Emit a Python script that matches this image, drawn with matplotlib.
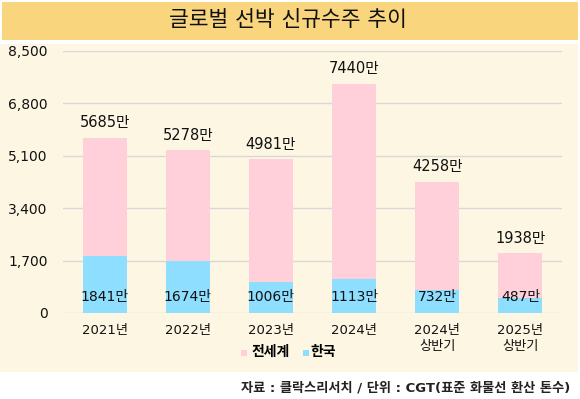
import matplotlib.pyplot as plt
from matplotlib.patches import Rectangle

plt.rcParams['font.family'] = ['DejaVu Sans', 'Noto Sans CJK KR']

categories = ['2021년', '2022년', '2023년', '2024년', '2024년\n상반기', '2025년\n상반기']
world = [5685, 5278, 4981, 7440, 4258, 1938]
korea = [1841, 1674, 1006, 1113, 732, 487]
yticks = [0, 1700, 3400, 5100, 6800, 8500]

pink = '#FFD0DA'
blue = '#8EDFFF'
cream = '#FDF6E2'

fig = plt.figure(figsize=(5.8, 3.99), dpi=100)
fig.patch.set_facecolor('white')

# title banner and panel background
fig.patches.append(Rectangle((2/580, 1 - 40/399), 576/580, 38/399, transform=fig.transFigure,
                             facecolor='#F9D67E', edgecolor='none', zorder=-2))
fig.patches.append(Rectangle((0, 1 - 372/399), 578/580, 328/399, transform=fig.transFigure,
                             facecolor=cream, edgecolor='none', zorder=-2))
fig.text(288/580, 1 - 20/399, '글로벌 선박 신규수주 추이', ha='center', va='center',
         fontsize=15.5, fontweight='medium', color='#111111')

ax = fig.add_axes([63/580, 1 - 313/399, 499/580, 262/399])
ax.set_facecolor('none')
x = range(len(categories))
ax.bar(x, world, width=0.53, color=pink, zorder=2)
ax.bar(x, korea, width=0.53, color=blue, zorder=3)

for i in x:
    ax.text(i, world[i] + 480, f'{world[i]}만', ha='center', va='center', fontsize=10.5,
            color='#111111', zorder=4)
    ax.text(i, 520, f'{korea[i]}만', ha='center', va='center', fontsize=10,
            color='#111111', zorder=4)

ax.set_xlim(-0.5, 5.5)
ax.set_ylim(0, 8500)
ax.set_yticks(yticks)
ax.set_yticklabels([f'{v:,}' for v in yticks], fontsize=10, color='#111111')
ax.set_xticks(list(x))
ax.set_xticklabels(categories, fontsize=9.5, linespacing=1.25, va='top', color='#111111')
ax.tick_params(length=0, pad=8)
ax.tick_params(axis='y', pad=11)
ax.grid(axis='y', color='#D8D8D8', linewidth=1, zorder=1)
for s in ax.spines.values():
    s.set_visible(False)

# legend
fig.patches.append(Rectangle((241/580, 1 - 356/399), 6/580, 6/399, transform=fig.transFigure,
                             facecolor=pink, edgecolor='none'))
fig.text(251/580, 1 - 352/399, '전세계', ha='left', va='center', fontsize=10, fontweight='bold')
fig.patches.append(Rectangle((303/580, 1 - 356/399), 6/580, 6/399, transform=fig.transFigure,
                             facecolor=blue, edgecolor='none'))
fig.text(310/580, 1 - 352/399, '한국', ha='left', va='center', fontsize=10, fontweight='bold')

fig.text(570/580, 1 - 388/399, '자료 : 클락스리서치 / 단위 : CGT(표준 화물선 환산 톤수)',
         ha='right', va='center', fontsize=9.5, fontweight='bold', color='#222222')

fig.savefig('out.png', dpi=100)
